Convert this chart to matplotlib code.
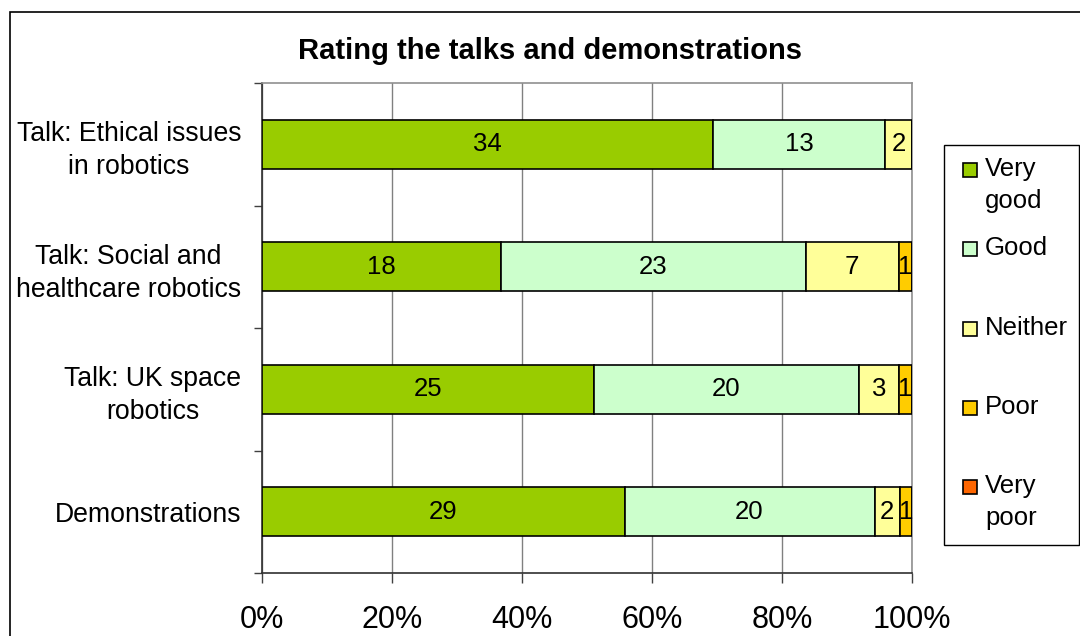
import matplotlib.pyplot as plt
from matplotlib.patches import Rectangle
import numpy as np

plt.rcParams['font.family'] = ['Liberation Sans', 'DejaVu Sans']

# data (counts per rating)
categories = ['Talk: Ethical issues\nin robotics',
              'Talk: Social and\nhealthcare robotics',
              'Talk: UK space\nrobotics',
              'Demonstrations']
ratings = ['Very\ngood', 'Good', 'Neither', 'Poor', 'Very\npoor']
very_good = [34, 18, 25, 29]
good = [13, 23, 20, 20]
neither = [2, 7, 3, 2]
poor = [0, 1, 1, 1]
very_poor = [0, 0, 0, 0]
colors = ['#99CC00', '#CCFFCC', '#FFFF99', '#FFCC00', '#FF6600']
tick_labels = ['0%', '20%', '40%', '60%', '80%', '100%']

W, H = 1080, 636
fig = plt.figure(figsize=(W / 100, H / 100), dpi=100)
ax = fig.add_axes([262 / W, 1 - 573 / H, 650 / W, 490 / H])

series = np.array([very_good, good, neither, poor, very_poor], dtype=float)
totals = series.sum(axis=0)
pct = series / totals * 100
y = np.arange(len(categories))

left = np.zeros(len(categories))
for i in range(len(ratings)):
    bars = ax.barh(y, pct[i], left=left, height=0.4, color=colors[i],
                   edgecolor='black', linewidth=1.2, zorder=3)
    for j, b in enumerate(bars):
        if series[i, j] > 0:
            ax.text(left[j] + pct[i, j] / 2, y[j], f'{int(series[i, j])}',
                    ha='center', va='center', fontsize=18.5, zorder=4)
    left += pct[i]

ax.set_xlim(0, 100)
ax.set_ylim(len(categories) - 0.5, -0.5)
ax.set_xticks(np.arange(0, 101, 20))
ax.set_xticklabels(tick_labels, fontsize=22)
ax.set_yticks(y)
ax.set_yticklabels(categories, fontsize=19.2, multialignment='center',
                   linespacing=1.35)
ax.set_yticks(np.arange(-0.5, len(categories)), minor=True)
ax.tick_params(axis='y', which='major', length=0, pad=15)
ax.tick_params(axis='y', which='minor', length=6, width=1, color='#404040')
ax.tick_params(axis='x', length=7, width=1, color='#404040', pad=16)
ax.xaxis.grid(True, color='#808080', linewidth=1, zorder=0)

for s in ['left', 'bottom']:
    ax.spines[s].set_color('#303030')
    ax.spines[s].set_linewidth(1.2)
for s in ['top', 'right']:
    ax.spines[s].set_color('#909090')
    ax.spines[s].set_linewidth(1.2)

fig.text(550 / W, 1 - 51 / H, 'Rating the talks and demonstrations',
         ha='center', va='center', fontsize=21, fontweight='bold')

# legend drawn by hand to match the spread-out layout
fig.patches.append(Rectangle((944 / W, 1 - 545 / H), 135 / W, 400 / H,
                             transform=fig.transFigure, facecolor='white',
                             edgecolor='black', linewidth=1))
for k, (lab, c) in enumerate(zip(ratings, colors)):
    yc = 170 + 79.3 * k
    fig.patches.append(Rectangle((963 / W, 1 - (yc + 7) / H), 14 / W, 14 / H,
                                 transform=fig.transFigure, facecolor=c,
                                 edgecolor='black', linewidth=1.2))
    fig.text(985 / W, 1 - (yc - 13) / H, lab, ha='left', va='top',
             fontsize=18.5, linespacing=1.4)

# outer chart border
fig.patches.append(Rectangle((10 / W, -0.1), 1.2, 1.1 - 12 / H,
                             transform=fig.transFigure, fill=False,
                             edgecolor='black', linewidth=1.2))

fig.savefig('out.png', dpi=100)
